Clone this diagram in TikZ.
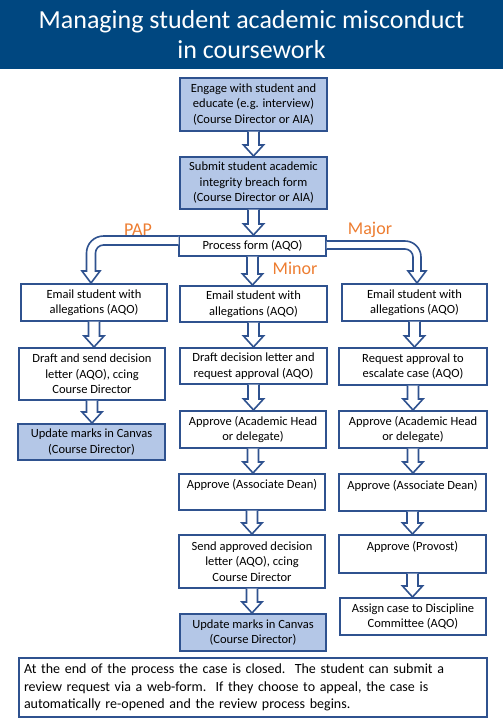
\documentclass[tikz,border=0pt]{standalone}
\usepackage{fontspec}
\setmainfont{Carlito}
\usepackage{xcolor}
\usetikzlibrary{calc}

\definecolor{titleblue}{RGB}{0,71,128}
\definecolor{boxline}{RGB}{47,82,143}
\definecolor{boxfill}{RGB}{180,199,231}
\definecolor{labelorange}{RGB}{237,125,49}

\tikzset{
  stage/.style={draw=boxline, line width=2pt, fill=white, align=center, inner sep=2pt,
    anchor=north west, font=\fontsize{12.5}{15.5}\selectfont},
  actor/.style={stage, fill=boxfill},
  sz/.style 2 args={minimum width=#1, minimum height=#2},
  blkarrow/.style={draw=boxline, line width=1.6pt, fill=white, line join=miter},
  branch/.style={text=labelorange, font=\fontsize{18}{20}\selectfont}
}

\newcommand{\dnarrow}[2]{%
  \draw[blkarrow] let \p1=(#1.south), \p2=(#2.north) in
    (\x1-5.5pt,\y1+0.5pt) -- (\x1-5.5pt,\y2+11pt) -- (\x1-10pt,\y2+11pt) -- (\x1,\y2)
    -- (\x1+10pt,\y2+11pt) -- (\x1+5.5pt,\y2+11pt) -- (\x1+5.5pt,\y1+0.5pt);
}

\begin{document}
\begin{tikzpicture}[x=1pt,y=1pt]
  \useasboundingbox (0,0) rectangle (503,-726);
  \fill[titleblue] (0,0) rectangle (503,-69);
  \node[text=white, align=center, font=\fontsize{26}{30}\selectfont] (title) at (251.5,-35)
    {Managing student academic misconduct\\in coursework};

  \node[actor, sz={147}{53}] (engage) at (179,-77)
    {Engage with student and\\educate (e.g. interview)\\(Course Director or AIA)};
  \node[actor, sz={147}{52}] (submit) at (179,-156)
    {Submit student academic\\integrity breach form\\(Course Director or AIA)};
  \node[stage, sz={147}{20}] (proc) at (178,-235) {Process form (AQO)};

  % PAP
  \node[stage, sz={146}{37}] (pmail) at (20,-283) {Email student with\\allegations (AQO)};
  \node[stage, sz={146}{52}] (pdraft) at (18,-347)
    {Draft and send decision\\letter (AQO), ccing\\Course Director};
  \node[actor, sz={147}{36}] (pupd) at (17,-423) {Update marks in Canvas\\(Course Director)};

  % Minor
  \node[stage, sz={147}{36}] (nmail) at (179,-285) {Email student with\\allegations (AQO)};
  \node[stage, sz={147}{36}] (ndraft) at (179,-347)
    {Draft decision letter and\\request approval (AQO)};
  \node[stage, sz={146}{37}] (nhead) at (179,-410) {Approve (Academic Head\\or delegate)};
  \node[stage, sz={146}{36}] (ndean) at (178,-473) {Approve (Associate Dean)\\~};
  \node[stage, sz={146}{53}] (nsend) at (178,-534)
    {Send approved decision\\letter (AQO), ccing\\Course Director};
  \node[actor, sz={146}{37}] (nupd) at (179,-613) {Update marks in Canvas\\(Course Director)};

  % Major
  \node[stage, sz={145}{37}] (mmail) at (341,-283) {Email student with\\allegations (AQO)};
  \node[stage, sz={148}{37}] (mreq) at (338,-347) {Request approval to\\escalate case (AQO)};
  \node[stage, sz={148}{37}] (mhead) at (338,-410) {Approve (Academic Head\\or delegate)};
  \node[stage, sz={147}{37}] (mdean) at (338,-473) {Approve (Associate Dean)\\~};
  \node[stage, sz={147}{38}] (mprov) at (338,-534) {Approve (Provost)\\~};
  \node[stage, sz={146}{37}] (massign) at (339,-597)
    {Assign case to Discipline\\Committee (AQO)};

  \node[stage, sz={468}{59}, align=left, text width=458, inner xsep=5pt,
    font=\fontsize{14}{17.5}\selectfont] (note) at (18,-657)
    {At the end of the process the case is closed.\ \ The student can submit a\\
     review request via a web-form.\ \ If they choose to appeal, the case is\\
     automatically re-opened and the review process begins.};

  \node[branch] (pap) at (138,-230) {PAP};
  \node[branch] (major) at (370,-230) {Major};
  \node[branch] (minor) at (295,-268) {Minor};

  \foreach \a/\b in {engage/submit, submit/proc, proc/nmail, pmail/pdraft, pdraft/pupd,
      nmail/ndraft, ndraft/nhead, nhead/ndean, ndean/nsend, nsend/nupd,
      mmail/mreq, mreq/mhead, mhead/mdean, mdean/mprov, mprov/massign}
    \dnarrow{\a}{\b};

  \draw[blkarrow] let \p1=(proc.west), \p2=(pmail.north), \p3=($(pmail.north)+(-3pt,0)$) in
    (\x1+0.5pt,\y1+10pt) -- (\x3+12.5pt,\y1+10pt) arc[start angle=90,end angle=180,radius=17pt]
    -- (\x3-4.5pt,\y2+12pt) -- (\x3-9pt,\y2+12pt) -- (\x3,\y2) -- (\x3+9pt,\y2+12pt)
    -- (\x3+4.5pt,\y2+12pt) -- (\x3+4.5pt,\y1-7pt) arc[start angle=180,end angle=90,radius=8pt]
    -- (\x1+0.5pt,\y1+1pt);
  \draw[blkarrow] let \p1=(proc.east), \p2=(mmail.north), \p3=($(mmail.north)+(2.5pt,0)$) in
    (\x1-0.5pt,\y1+5pt) -- (\x3-12pt,\y1+5pt) arc[start angle=90,end angle=0,radius=16pt]
    -- (\x3+4pt,\y2+12pt) -- (\x3+9pt,\y2+12pt) -- (\x3,\y2) -- (\x3-9pt,\y2+12pt)
    -- (\x3-4pt,\y2+12pt) -- (\x3-4pt,\y1-11pt) arc[start angle=0,end angle=90,radius=8pt]
    -- (\x1-0.5pt,\y1-3pt);
\end{tikzpicture}
\end{document}
